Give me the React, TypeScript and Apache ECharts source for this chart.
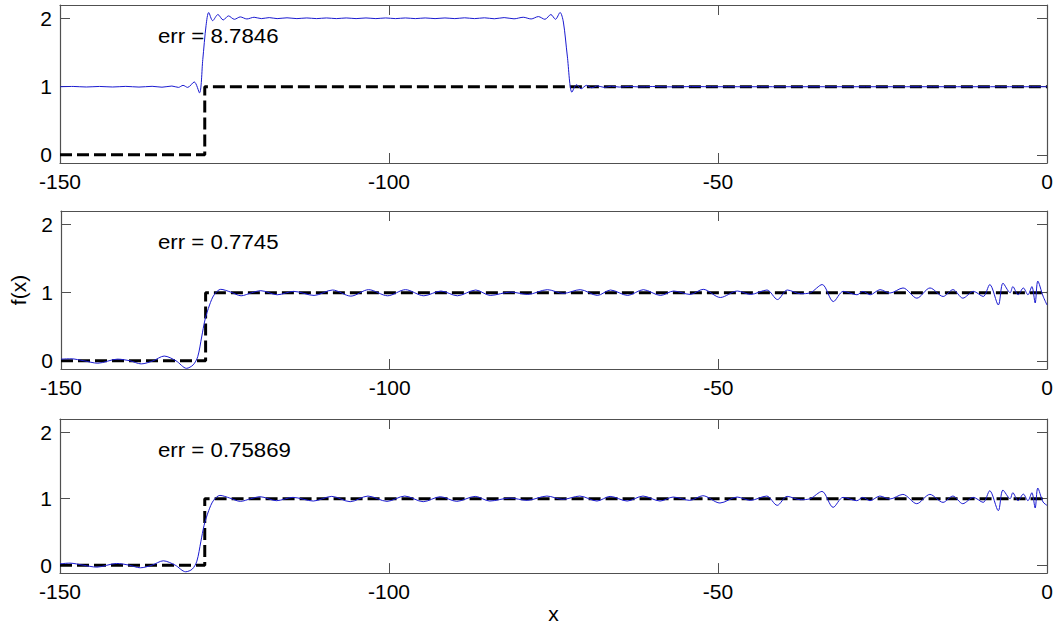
import React, { useEffect, useRef } from "react";
import * as echarts from "echarts";

const X_TICKS = [-150, -100, -50, 0];
const Y_TICKS = [0, 1, 2];
const ERR_LABELS = ["err = 8.7846", "err = 0.7745", "err = 0.75869"];

const STEP: number[][] = [
  [-150, 0],
  [-128, 0],
  [-128, 1],
  [0, 1],
];

const BLUE_1: number[][] = [
  [-150, 1.0], [-148, 1.004], [-146, 0.996], [-144, 1.004], [-142, 0.996], [-140, 1.005],
  [-138, 0.995], [-136, 1.006], [-134.5, 0.993], [-133, 1.01], [-132, 0.99], [-131.3, 1.02],
  [-130.6, 0.99], [-129.6, 1.07], [-128.8, 0.91], [-128.3, 1.4], [-127.8, 1.9], [-127.4, 2.09],
  [-126.8, 1.97], [-126, 2.06], [-125.2, 1.98], [-124.4, 2.04], [-123.5, 1.99], [-122.6, 2.025],
  [-121.6, 1.995], [-120.5, 2.02], [-119.4, 2.0], [-118.2, 2.015], [-117, 2.0], [-115.5, 2.012],
  [-114, 2.0], [-112.5, 2.01], [-111, 2.0], [-109.5, 2.01], [-108, 2.0], [-106.5, 2.01],
  [-105, 2.0], [-103.5, 2.01], [-102, 2.0], [-100.5, 2.01], [-99, 2.0], [-97.5, 2.01],
  [-96, 2.0], [-94.5, 2.01], [-93, 2.0], [-91.5, 2.01], [-90, 2.0], [-88.5, 2.012],
  [-87, 2.0], [-85.5, 2.012], [-84, 1.998], [-82.5, 2.015], [-81, 1.997], [-79.6, 2.02],
  [-78.4, 1.995], [-77.3, 2.03], [-76.3, 1.99], [-75.4, 2.06], [-74.7, 1.99], [-74.0, 2.09],
  [-73.5, 1.95], [-72.9, 1.45], [-72.2, 0.92], [-71.5, 1.03], [-70.8, 0.97], [-70, 1.02],
  [-69.2, 0.985], [-68.3, 1.012], [-67.3, 0.99], [-66.2, 1.008], [-65, 0.995], [-63.5, 1.005],
  [-62, 0.997], [-60, 1.003], [-57, 0.998], [-54, 1.002], [-50, 1.0], [0, 1.0],
];

const BLUE_2: number[][] = [
  [-150, 0.025], [-148.5, 0.03], [-146.5, 0.0], [-144.4, -0.035], [-141.4, 0.025], [-139.5, 0.0],
  [-137.8, -0.045], [-136, 0.0], [-134.3, 0.07], [-132.5, 0.0], [-130.9, -0.11], [-129.9, -0.06],
  [-129.2, 0.06], [-128.6, 0.35], [-128.1, 0.6], [-127.4, 0.82], [-126.7, 0.97], [-125.7, 1.05],
  [-124.2, 1.01], [-122.6, 0.955], [-121, 1.0], [-119.6, 1.03], [-117.1, 0.97], [-114.6, 1.02],
  [-111.5, 0.96], [-108.7, 1.04], [-105.9, 0.95], [-103.2, 1.045], [-100.3, 0.955], [-97.6, 1.045],
  [-94.8, 0.955], [-92.2, 1.025], [-89.7, 0.955], [-86.9, 1.04], [-84.7, 0.96], [-81.6, 1.01],
  [-79, 0.975], [-76, 1.045], [-73.6, 0.99], [-71, 1.045], [-68.4, 0.96], [-66.4, 1.04],
  [-63.8, 0.96], [-61.4, 1.045], [-58.8, 0.96], [-56.8, 1.025], [-54.3, 0.975], [-52.3, 1.05],
  [-49.7, 0.93], [-47.1, 1.025], [-45.1, 0.975], [-42.6, 1.04], [-41, 0.9], [-39.5, 1.04],
  [-37.5, 0.985], [-36, 1.0], [-34.2, 1.12], [-32.5, 0.87], [-31, 1.02], [-28.9, 0.97],
  [-28, 1.02], [-26.9, 0.97], [-25.4, 1.045], [-23.9, 0.995], [-21.9, 1.07], [-19.8, 0.92],
  [-17.8, 1.07], [-15.8, 0.945], [-14.3, 1.045], [-12.8, 0.92], [-11.2, 1.02], [-9.7, 0.945],
  [-8.7, 1.12], [-7.4, 0.82], [-6.7, 1.14], [-5.6, 1.0], [-5.2, 1.09], [-4.4, 0.97],
  [-3.6, 1.07], [-2.9, 0.97], [-2.3, 1.09], [-1.8, 0.85], [-1.4, 1.17], [-0.6, 0.95], [0, 0.82],
];

const BLUE_3: number[][] = [
  [-150, 0.02], [-148.5, 0.03], [-146.5, 0.0], [-144.4, -0.03], [-141.4, 0.025], [-139.5, 0.0],
  [-137.8, -0.04], [-136, 0.0], [-134.3, 0.065], [-132.5, 0.0], [-130.9, -0.1], [-129.9, -0.06],
  [-129.2, 0.06], [-128.6, 0.35], [-128.1, 0.6], [-127.4, 0.82], [-126.7, 0.97], [-125.7, 1.05],
  [-124.2, 1.01], [-122.6, 0.96], [-121, 1.0], [-119.6, 1.03], [-117.1, 0.97], [-114.6, 1.02],
  [-111.5, 0.965], [-108.7, 1.035], [-105.9, 0.955], [-103.2, 1.04], [-100.3, 0.96], [-97.6, 1.04],
  [-94.8, 0.955], [-92.2, 1.03], [-89.7, 0.96], [-86.9, 1.035], [-84.7, 0.965], [-81.6, 1.01],
  [-79, 0.975], [-76, 1.04], [-73.6, 0.99], [-71, 1.04], [-68.4, 0.965], [-66.4, 1.035],
  [-63.8, 0.965], [-61.4, 1.04], [-58.8, 0.965], [-56.8, 1.025], [-54.3, 0.975], [-52.3, 1.045],
  [-49.7, 0.935], [-47.1, 1.025], [-45.1, 0.975], [-42.6, 1.04], [-41, 0.9], [-39.5, 1.035],
  [-37.5, 0.985], [-36, 1.0], [-34.2, 1.11], [-32.5, 0.87], [-31, 1.02], [-28.9, 0.97],
  [-28, 1.02], [-26.9, 0.97], [-25.4, 1.04], [-23.9, 0.995], [-21.9, 1.065], [-19.8, 0.925],
  [-17.8, 1.065], [-15.8, 0.945], [-14.3, 1.04], [-12.8, 0.925], [-11.2, 1.02], [-9.7, 0.945],
  [-8.7, 1.12], [-7.4, 0.82], [-6.7, 1.13], [-5.6, 1.0], [-5.2, 1.09], [-4.4, 0.97],
  [-3.6, 1.07], [-2.9, 0.97], [-2.3, 1.09], [-1.8, 0.86], [-1.4, 1.16], [-0.6, 0.95], [0, 0.9],
];

const BLUES = [BLUE_1, BLUE_2, BLUE_3];

const FONT = "'Liberation Sans', Arial, sans-serif";
const AXIS_COLOR = "#505050";
const GRID_TOPS = [5, 211, 419];
const GRID_HEIGHT = 158;

export default function App() {
  const ref = useRef<HTMLDivElement>(null);

  useEffect(() => {
    document.body.style.margin = "0";
    if (!ref.current) return;
    const chart = echarts.init(ref.current, null, { renderer: "svg" });

    const grids: any[] = [];
    const xAxes: any[] = [];
    const yAxes: any[] = [];
    const series: any[] = [];
    const graphics: any[] = [];

    const tickStyle = { show: true, inside: true, length: 10, lineStyle: { color: AXIS_COLOR, width: 1 } };
    const lineStyle = { show: true, onZero: false, lineStyle: { color: AXIS_COLOR, width: 1.2 } };

    for (let i = 0; i < 3; i++) {
      grids.push({ left: 60, right: 11, top: GRID_TOPS[i], height: GRID_HEIGHT, containLabel: false });
      const xBase = {
        type: "value",
        gridIndex: i,
        min: X_TICKS[0],
        max: X_TICKS[X_TICKS.length - 1],
        interval: 50,
        splitLine: { show: false },
        axisLine: lineStyle,
        axisTick: tickStyle,
      };
      xAxes.push({
        ...xBase,
        position: "bottom",
        axisLabel: { show: true, color: "#000", fontSize: 21, fontFamily: FONT, margin: 8 },
        ...(i === 2
          ? { name: "x", nameLocation: "middle", nameGap: 26, nameTextStyle: { color: "#000", fontSize: 21, fontFamily: FONT } }
          : {}),
      });
      xAxes.push({ ...xBase, position: "top", axisLabel: { show: false } });
      const yBase = {
        type: "value",
        gridIndex: i,
        min: -0.12,
        max: 2.2,
        splitLine: { show: false },
        axisLine: lineStyle,
        axisTick: { ...tickStyle, customValues: Y_TICKS },
      };
      yAxes.push({
        ...yBase,
        position: "left",
        axisLabel: { show: true, color: "#000", fontSize: 21, fontFamily: FONT, margin: 8, customValues: Y_TICKS },
        ...(i === 1
          ? { name: "f(x)", nameLocation: "middle", nameGap: 32, nameRotate: 90, nameTextStyle: { color: "#000", fontSize: 21, fontFamily: FONT } }
          : {}),
      });
      yAxes.push({ ...yBase, position: "right", axisLabel: { show: false } });

      series.push({
        type: "line",
        xAxisIndex: i * 2,
        yAxisIndex: i * 2,
        data: STEP,
        showSymbol: false,
        symbol: "none",
        lineStyle: { color: "#000", width: 3, type: [12, 5] },
        silent: true,
        z: 2,
      });
      series.push({
        type: "line",
        xAxisIndex: i * 2,
        yAxisIndex: i * 2,
        data: BLUES[i],
        showSymbol: false,
        symbol: "none",
        smooth: 0.3,
        lineStyle: { color: "#1a1ad0", width: 1 },
        silent: true,
        z: 3,
      });

      graphics.push({
        type: "text",
        x: 158,
        y: GRID_TOPS[i] + 31,
        style: { text: ERR_LABELS[i], fill: "#000", font: `21px ${FONT}`, verticalAlign: "middle" },
        scaleX: 1.06,
      });
    }

    chart.setOption({
      animation: false,
      backgroundColor: "#fff",
      grid: grids,
      xAxis: xAxes,
      yAxis: yAxes,
      series,
      graphic: graphics,
    });

    return () => chart.dispose();
  }, []);

  return <div ref={ref} style={{ width: 1058, height: 625 }} />;
}
